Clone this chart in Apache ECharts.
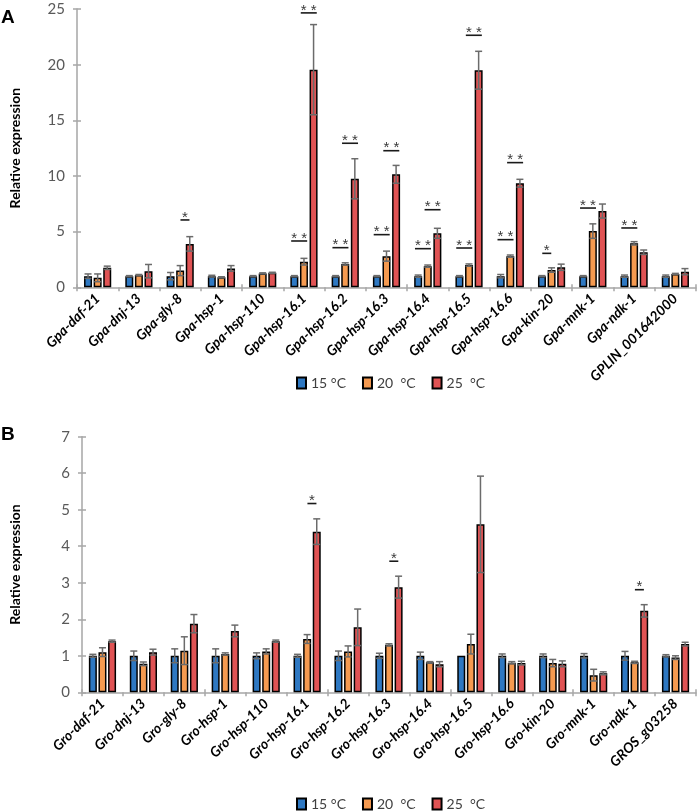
<!DOCTYPE html>
<html><head><meta charset="utf-8">
<script src="https://cdn.jsdelivr.net/npm/echarts@6/dist/echarts.min.js"></script>
<style>html,body{margin:0;padding:0;background:#fff}#c{width:697px;height:812px}</style>
</head><body><div id="c"></div>
<script>
// ---------- data ----------
const seriesNames = ['15 °C', '20  °C', '25  °C'];

const catsA = ['Gpa-daf-21','Gpa-dnj-13','Gpa-gly-8','Gpa-hsp-1','Gpa-hsp-110','Gpa-hsp-16.1','Gpa-hsp-16.2','Gpa-hsp-16.3','Gpa-hsp-16.4','Gpa-hsp-16.5','Gpa-hsp-16.6','Gpa-kin-20','Gpa-mnk-1','Gpa-ndk-1','GPLIN_001642000'];
const a15    = [1.0, 1.0, 1.0, 1.0, 1.0, 1.0, 1.0, 1.0, 1.0, 1.0, 1.0, 1.0, 1.0, 1.0, 1.0];
const a15Err = [0.2, 0.05, 0.33, 0.08, 0.05, 0.05, 0.05, 0.05, 0.1, 0.05, 0.15, 0.05, 0.05, 0.1, 0.1];
const a20    = [0.85, 1.1, 1.5, 0.9, 1.25, 2.3, 2.1, 2.8, 1.9, 2.0, 2.8, 1.55, 5.05, 3.95, 1.2];
const a20Err = [0.35, 0.05, 0.45, 0.05, 0.05, 0.3, 0.1, 0.45, 0.1, 0.1, 0.1, 0.2, 0.65, 0.15, 0.05];
const a25    = [1.75, 1.45, 3.9, 1.7, 1.3, 19.55, 9.75, 10.15, 4.85, 19.5, 9.35, 1.8, 6.85, 3.15, 1.4];
const a25Err = [0.15, 0.6, 0.65, 0.25, 0.05, 4.05, 1.8, 0.8, 0.45, 1.7, 0.35, 0.28, 0.63, 0.2, 0.28];
const ticksA = { min: 0, max: 25, interval: 5 };
// significance: [category, first bar of pair (0 = 15/20, 1 = 20/25), bar level, mark]
const sigA = [
  ['Gpa-gly-8', 1, 6.05, '*'],
  ['Gpa-hsp-16.1', 0, 4.16, '**'], ['Gpa-hsp-16.1', 1, 24.65, '**'],
  ['Gpa-hsp-16.2', 0, 3.56, '**'], ['Gpa-hsp-16.2', 1, 12.94, '**'],
  ['Gpa-hsp-16.3', 0, 4.73, '**'], ['Gpa-hsp-16.3', 1, 12.27, '**'],
  ['Gpa-hsp-16.4', 0, 3.47, '**'], ['Gpa-hsp-16.4', 1, 6.97, '**'],
  ['Gpa-hsp-16.5', 0, 3.53, '**'], ['Gpa-hsp-16.5', 1, 22.64, '**'],
  ['Gpa-hsp-16.6', 0, 4.28, '**'], ['Gpa-hsp-16.6', 1, 11.2, '**'],
  ['Gpa-kin-20', 0, 3.05, '*'],
  ['Gpa-mnk-1', 0, 7.12, '**'],
  ['Gpa-ndk-1', 0, 5.33, '**']
];

const catsB = ['Gro-daf-21','Gro-dnj-13','Gro-gly-8','Gro-hsp-1','Gro-hsp-110','Gro-hsp-16.1','Gro-hsp-16.2','Gro-hsp-16.3','Gro-hsp-16.4','Gro-hsp-16.5','Gro-hsp-16.6','Gro-kin-20','Gro-mnk-1','Gro-ndk-1','GROS_g03258'];
const b15    = [1.0, 1.0, 1.0, 1.0, 1.0, 1.0, 1.0, 1.0, 1.0, 1.0, 1.0, 1.0, 1.0, 1.0, 1.0];
const b15Err = [0.04, 0.13, 0.19, 0.19, 0.08, 0.04, 0.13, 0.07, 0.1, 0.0, 0.05, 0.05, 0.06, 0.12, 0.03];
const b20    = [1.1, 0.78, 1.14, 1.05, 1.12, 1.46, 1.12, 1.3, 0.82, 1.32, 0.81, 0.8, 0.47, 0.82, 0.95];
const b20Err = [0.12, 0.05, 0.38, 0.03, 0.07, 0.12, 0.15, 0.03, 0.02, 0.27, 0.03, 0.1, 0.16, 0.03, 0.05];
const b25    = [1.4, 1.1, 1.88, 1.68, 1.4, 4.4, 1.78, 2.88, 0.77, 4.6, 0.8, 0.78, 0.52, 2.23, 1.32];
const b25Err = [0.03, 0.08, 0.25, 0.16, 0.03, 0.35, 0.5, 0.3, 0.07, 1.32, 0.05, 0.08, 0.04, 0.17, 0.05];
const ticksB = { min: 0, max: 7, interval: 1 };
const sigB = [
  ['Gro-hsp-16.1', 1, 5.17, '*'],
  ['Gro-hsp-16.3', 1, 3.59, '*'],
  ['Gro-ndk-1', 1, 2.81, '*']
];

// ---------- style ----------
const colors = ['#2e78c2', '#f59a50', '#e05354'];
const BAR_W = 8, STEP = 9.6;
const FONT = 'Lato, "Open Sans", sans-serif';
const AXIS_GRAY = '#a6a6a6';

const chart = echarts.init(document.getElementById('c'));

function panel(p, cats, vals, errs, ticks, sig, grid) {
  const xi = p * 2, yi = p * 2;
  const xAxes = [
    { type: 'category', gridIndex: p, data: cats,
      axisLine: { lineStyle: { color: AXIS_GRAY, width: 1.5 } },
      axisTick: { show: true, length: 4, lineStyle: { color: AXIS_GRAY, width: 1.5 } },
      axisLabel: { rotate: 45, margin: 9, interval: 0, fontFamily: FONT, fontSize: 14,
                   fontWeight: 'bold', fontStyle: 'italic', color: '#000' } },
    { type: 'category', gridIndex: p, data: cats, position: 'bottom',
      axisLine: { show: false }, axisLabel: { show: false },
      axisTick: { show: true, inside: true, length: 3, lineStyle: { color: AXIS_GRAY, width: 1.5 } } }
  ];
  const yAxes = [
    { type: 'value', gridIndex: p, min: ticks.min, max: ticks.max, interval: ticks.interval, position: 'left',
      name: 'Relative expression', nameLocation: 'middle', nameGap: grid.left - 14, nameRotate: 90,
      nameTextStyle: { fontFamily: FONT, fontSize: 14, fontWeight: 'bold', color: '#000' },
      axisLine: { show: true, lineStyle: { color: AXIS_GRAY, width: 1.5 } },
      axisTick: { show: true, length: 4, lineStyle: { color: AXIS_GRAY, width: 1.5 } },
      axisLabel: { margin: 12, fontFamily: FONT, fontSize: 15, color: '#595959' },
      splitLine: { show: false } },
    { type: 'value', gridIndex: p, min: ticks.min, max: ticks.max, interval: ticks.interval, position: 'left',
      axisLine: { show: false }, axisLabel: { show: false }, splitLine: { show: false },
      axisTick: { show: true, inside: true, length: 4, lineStyle: { color: AXIS_GRAY, width: 1.5 } } }
  ];
  const series = [];
  for (let i = 0; i < 3; i++) {
    series.push({
      type: 'bar', name: seriesNames[i], xAxisIndex: xi, yAxisIndex: yi,
      data: vals[i], barWidth: BAR_W, barGap: '20%',
      itemStyle: { color: colors[i], borderColor: '#000', borderWidth: 1.5 },
      emphasis: { disabled: true }, z: 2
    });
  }
  // error bars
  const errData = [];
  for (let i = 0; i < 3; i++) {
    for (let k = 0; k < cats.length; k++) {
      errData.push([k, vals[i][k], errs[i][k], i]);
    }
  }
  series.push({
    type: 'custom', xAxisIndex: xi, yAxisIndex: yi, z: 5, clip: false, silent: true,
    encode: { x: 0, y: 1 },
    data: errData,
    renderItem: function (params, api) {
      const k = api.value(0), v = api.value(1), e = api.value(2), i = api.value(3);
      if (!e) return null;
      const c = api.coord([k, v]);
      const x = c[0] + (i - 1) * STEP;
      const yt = api.coord([k, v + e])[1];
      const yb = api.coord([k, Math.max(0, v - e)])[1];
      const st = { stroke: '#6b6b6b', lineWidth: 1.5 };
      return { type: 'group', children: [
        { type: 'line', shape: { x1: x, y1: yb, x2: x, y2: yt }, style: st },
        { type: 'line', shape: { x1: x - 3.5, y1: yt, x2: x + 3.5, y2: yt }, style: st },
        { type: 'line', shape: { x1: x - 3.5, y1: yb, x2: x + 3.5, y2: yb }, style: st }
      ]};
    }
  });
  // significance marks
  series.push({
    type: 'custom', xAxisIndex: xi, yAxisIndex: yi, z: 6, clip: false, silent: true,
    encode: { x: 0, y: 1 },
    data: sig.map(s => [cats.indexOf(s[0]), s[2]]),
    renderItem: function (params, api) {
      const s = sig[params.dataIndex];
      const c = api.coord([api.value(0), api.value(1)]);
      const mid = c[0] + (s[1] - 0.5) * STEP;
      const half = s[3] === '**' ? 8 : 4.5;
      return { type: 'group', children: [
        { type: 'line', shape: { x1: mid - half, y1: c[1], x2: mid + half, y2: c[1] },
          style: { stroke: '#1a1a1a', lineWidth: 1.6 } },
        { type: 'text', style: { text: s[3] === '**' ? '* *' : '*', x: mid, y: c[1] + 5,
          align: 'center', verticalAlign: 'bottom', fontSize: 15, fontFamily: 'Liberation Sans, Arial, sans-serif', fill: '#3a3a3a' } }
      ]};
    }
  });
  return { xAxes, yAxes, series };
}

const gridA = { left: 69, right: 1, top: 9, height: 278.3 };
const gridB = { left: 74, right: 1, top: 436.7, height: 255.6 };
const pa = panel(0, catsA, [a15, a20, a25], [a15Err, a20Err, a25Err], ticksA, sigA, gridA);
const pb = panel(1, catsB, [b15, b20, b25], [b15Err, b20Err, b25Err], ticksB, sigB, gridB);

const legendBase = {
  data: seriesNames, icon: 'rect', itemWidth: 9, itemHeight: 11, itemGap: 16,
  textStyle: { fontFamily: FONT, fontSize: 14, color: '#404040' }, selectedMode: false
};

chart.setOption({
  animation: false,
  backgroundColor: '#fff',
  grid: [
    { left: gridA.left, right: gridA.right, top: gridA.top, height: gridA.height, containLabel: false },
    { left: gridB.left, right: gridB.right, top: gridB.top, height: gridB.height, containLabel: false }
  ],
  legend: [
    Object.assign({ left: 291, top: 371 }, legendBase),
    Object.assign({ left: 291, top: 792 }, legendBase)
  ],
  xAxis: pa.xAxes.concat(pb.xAxes),
  yAxis: pa.yAxes.concat(pb.yAxes),
  series: pa.series.concat(pb.series),
  graphic: [
    { type: 'text', left: 1, top: 8, style: { text: 'A', fontSize: 19, fontWeight: 'bold', fontFamily: 'Liberation Sans, Arial, sans-serif', fill: '#000' } },
    { type: 'text', left: 1, top: 425, style: { text: 'B', fontSize: 19, fontWeight: 'bold', fontFamily: 'Liberation Sans, Arial, sans-serif', fill: '#000' } }
  ]
});
</script>
</body></html>
